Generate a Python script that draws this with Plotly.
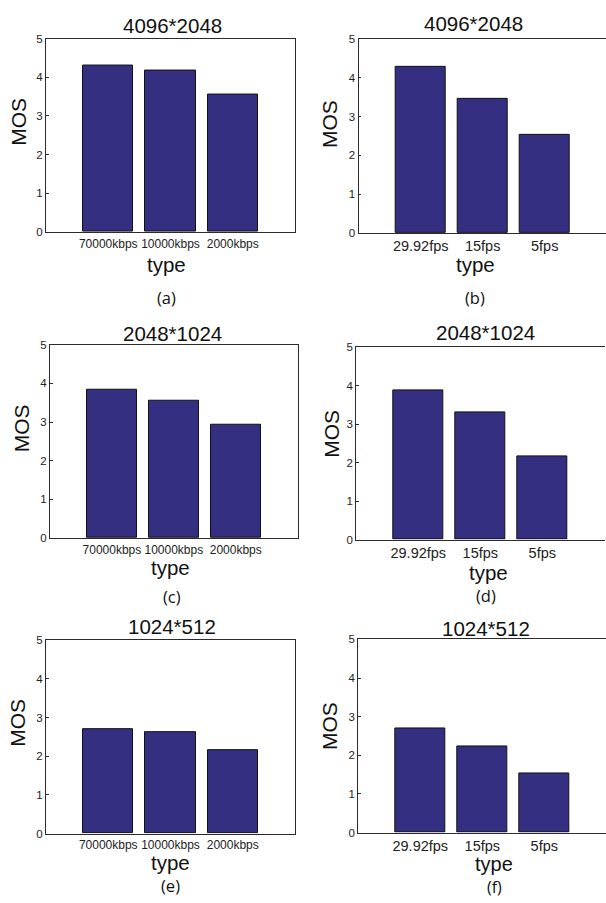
import plotly.graph_objects as go

W, H = 606, 903

kbps_labels = ["70000kbps", "10000kbps", "2000kbps"]
fps_labels = ["29.92fps", "15fps", "5fps"]
titles = ["4096*2048", "4096*2048", "2048*1024", "2048*1024", "1024*512", "1024*512"]
captions = ["(a)", "(b)", "(c)", "(d)", "(e)", "(f)"]

mos_a = [4.31, 4.17, 3.55]
mos_b = [4.29, 3.45, 2.52]
mos_c = [3.84, 3.55, 2.92]
mos_d = [3.87, 3.32, 2.17]
mos_e = [2.69, 2.61, 2.15]
mos_f = [2.69, 2.23, 1.54]

series = [mos_a, mos_b, mos_c, mos_d, mos_e, mos_f]
labels = [kbps_labels, fps_labels, kbps_labels, fps_labels, kbps_labels, fps_labels]

# panel boxes in pixels: left, right, top, bottom
boxes = [
    (46, 295, 33, 229),
    (358.7, 606, 33.3, 230),
    (50, 297.7, 343.3, 539.3),
    (356.3, 605, 346, 540.7),
    (46, 295, 642.7, 838.7),
    (358.3, 606, 642, 837.7),
]
# text positions (pixels): title, MOS, type, caption
title_pos = [(172, 19.5), (473, 17.5), (172, 332), (485, 330.5), (172.5, 628.5), (485.5, 630.5)]
mos_pos = [(18.3, 117), (329.7, 120), (21.7, 428.3), (331.3, 433.3), (16.7, 726.7), (329.7, 730)]
type_pos = [(166, 262), (475, 262), (170, 569), (488, 574), (170, 868), (494, 869.5)]
cap_pos = [(166, 295), (475, 295), (172, 598), (486, 597), (170, 891), (494.7, 893)]

BAR = "#352F82"
AX = "#2b2b2b"
FONT = "Liberation Sans"

fig = go.Figure()
annotations = []
for i in range(6):
    l, r, t, b = boxes[i]
    xa = "xaxis" if i == 0 else f"xaxis{i+1}"
    ya = "yaxis" if i == 0 else f"yaxis{i+1}"
    xr = "x" if i == 0 else f"x{i+1}"
    yr = "y" if i == 0 else f"y{i+1}"
    right_col = (i % 2 == 1)
    fig.add_trace(go.Bar(
        x=[1, 2, 3], y=series[i], xaxis=xr, yaxis=yr, width=0.81,
        marker=dict(color=BAR, line=dict(color="#111111", width=1)),
        showlegend=False, hoverinfo="skip"))
    xmax = 4.0 if not right_col else (r - l) / 62.0
    fig.layout[xa] = dict(
        domain=[l / W, r / W], range=[0, xmax], anchor=yr,
        tickmode="array", tickvals=[1, 2, 3], ticktext=labels[i], tickangle=0,
        ticks="", showline=True, linecolor=AX, linewidth=1.3, mirror=True,
        showgrid=False, zeroline=False, fixedrange=True,
        tickfont=dict(family=FONT, size=14.5 if right_col else 12, color="#222222"),
    )
    fig.layout[ya] = dict(
        domain=[1 - b / H, 1 - t / H], range=[0, 5], anchor=xr,
        tickmode="array", tickvals=[0, 1, 2, 3, 4, 5],
        ticks="inside", ticklen=2.5, tickcolor=AX, tickwidth=1,
        showline=True, linecolor=AX, linewidth=1.3, mirror=(not right_col),
        showgrid=False, zeroline=False, fixedrange=True,
        tickfont=dict(family=FONT, size=11.5, color="#222222"),
    )
    def ann(text, pos, size, angle=0, family=FONT):
        annotations.append(dict(
            text=text, x=pos[0] / W, y=1 - pos[1] / H, xref="paper", yref="paper",
            xanchor="center", yanchor="middle", showarrow=False, textangle=angle,
            font=dict(family=family, size=size, color="#111111")))
    ann(titles[i], title_pos[i], 20.5)
    ann("MOS", mos_pos[i], 21, angle=-90)
    ann("type", type_pos[i], 20.5 if i != 5 else 20)
    ann(captions[i], cap_pos[i], 16.5 if i != 5 else 16, family="Open Sans")

fig.update_layout(
    width=W, height=H, margin=dict(l=0, r=0, t=0, b=0),
    paper_bgcolor="white", plot_bgcolor="white",
    annotations=annotations, bargap=0,
)
fig.write_html("out.html")
